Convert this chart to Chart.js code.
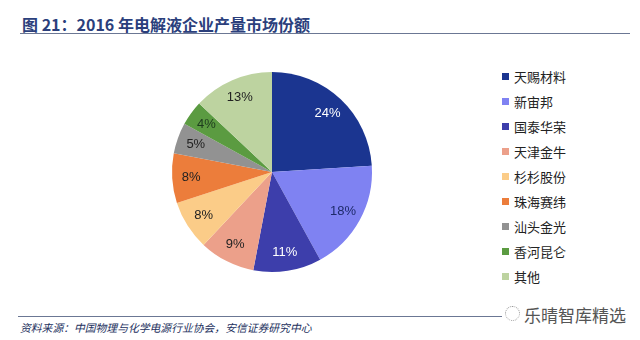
<!DOCTYPE html>
<html>
<head>
<meta charset="utf-8">
<script src="https://cdn.jsdelivr.net/npm/chart.js@4.4.0/dist/chart.umd.min.js"></script>
<style>
  body { margin: 0; width: 640px; height: 340px; background: #fff; position: relative; overflow: hidden;
         font-family: "Noto Sans CJK SC", "Noto Sans", sans-serif; }
  #title { position: absolute; left: 22px; top: 12px; font-size: 16px; font-weight: bold; color: #2b3f7c; white-space: nowrap; }
  #topline { position: absolute; left: 20px; top: 33px; width: 610px; height: 1px; background: #6b7794; }
  #chartBox { position: absolute; left: 170px; top: 70px; width: 204px; height: 204px; }
  #legend { position: absolute; left: 502px; top: 64px; }
  .item { height: 25px; display: flex; align-items: center; font-size: 13px; color: #222; white-space: nowrap; }
  .box { width: 7px; height: 7px; margin-right: 5px; }
  #botline { position: absolute; left: 18px; top: 316px; width: 484px; height: 1px; background: #6b7794; }
  #source { position: absolute; left: 20px; top: 319px; font-size: 10.8px; font-style: italic; color: #24315e; white-space: nowrap; }
  #mark { position: absolute; left: 524px; top: 302px; font-size: 17px; color: #555; white-space: nowrap; }
  #icon { position: absolute; left: 505px; top: 306px; width: 13px; height: 13px; border: 1px dotted #999; border-radius: 50%; }
</style>
</head>
<body>
<div id="title">图 21：2016 年电解液企业产量市场份额</div>
<div id="topline"></div>
<div id="chartBox"><canvas id="pie"></canvas></div>
<div id="legend"></div>
<div id="botline"></div>
<div id="source">资料来源：中国物理与化学电源行业协会，安信证券研究中心</div>
<div id="icon"></div>
<div id="mark">乐晴智库精选</div>
<script>
// ========== データ ==========
const companies = ['天赐材料', '新宙邦', '国泰华荣', '天津金牛', '杉杉股份', '珠海赛纬', '汕头金光', '香河昆仑', '其他'];
const shares = [24, 18, 11, 9, 8, 8, 5, 4, 13];
const sliceColors = ['#1b3590', '#7f82f2', '#3d3eab', '#eca08a', '#fbcc88', '#ec7d3b', '#929292', '#5b9b41', '#bdd3a0'];
const labelColors = ['#ffffff', '#1e2a6a', '#ffffff', '#222222', '#222222', '#222222', '#222222', '#1d3a1d', '#222222'];

// ========== 凡例 ==========
const legend = document.getElementById('legend');
companies.forEach((name, i) => {
  const row = document.createElement('div');
  row.className = 'item';
  const box = document.createElement('span');
  box.className = 'box';
  box.style.background = sliceColors[i];
  row.appendChild(box);
  row.appendChild(document.createTextNode(name));
  legend.appendChild(row);
});

// ========== ラベル ==========
const sliceLabels = {
  id: 'sliceLabels',
  afterDatasetsDraw(chart) {
    const ctx = chart.ctx;
    const meta = chart.getDatasetMeta(0);
    ctx.save();
    ctx.font = '13px "Liberation Sans", Arial, sans-serif';
    ctx.textAlign = 'center';
    ctx.textBaseline = 'middle';
    meta.data.forEach((arc, i) => {
      const p = arc.getProps(['x', 'y', 'startAngle', 'endAngle', 'outerRadius'], true);
      const mid = (p.startAngle + p.endAngle) / 2;
      const r = p.outerRadius * 0.81;
      ctx.fillStyle = labelColors[i];
      ctx.fillText(shares[i] + '%', p.x + Math.cos(mid) * r, p.y + Math.sin(mid) * r);
    });
    ctx.restore();
  }
};

new Chart(document.getElementById('pie'), {
  type: 'pie',
  data: {
    labels: companies,
    datasets: [{
      data: shares,
      backgroundColor: sliceColors,
      borderWidth: 0
    }]
  },
  options: {
    responsive: true,
    maintainAspectRatio: false,
    animation: false,
    layout: { padding: 2 },
    plugins: {
      legend: { display: false },
      tooltip: { enabled: false }
    }
  },
  plugins: [sliceLabels]
});
</script>
</body>
</html>
